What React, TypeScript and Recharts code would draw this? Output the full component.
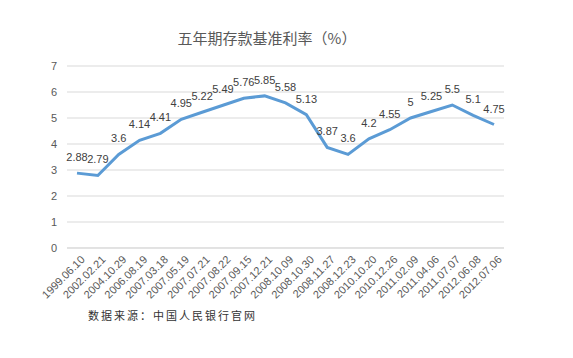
import React from 'react';
import { LineChart, Line, XAxis, YAxis, CartesianGrid, LabelList } from 'recharts';

const dates = [
  '1999.06.10', '2002.02.21', '2004.10.29', '2006.08.19', '2007.03.18', '2007.05.19',
  '2007.07.21', '2007.08.22', '2007.09.15', '2007.12.21', '2008.10.09', '2008.10.30',
  '2008.11.27', '2008.12.23', '2010.10.20', '2010.12.26', '2011.02.09', '2011.04.06',
  '2011.07.07', '2012.06.08', '2012.07.06',
];
const rates = [
  2.88, 2.79, 3.6, 4.14, 4.41, 4.95, 5.22, 5.49, 5.76, 5.85, 5.58, 5.13,
  3.87, 3.6, 4.2, 4.55, 5, 5.25, 5.5, 5.1, 4.75,
];
const yTicks = [0, 1, 2, 3, 4, 5, 6, 7];
const title = '五年期存款基准利率（%）';
const source = '数据来源：中国人民银行官网';

const data = dates.map((d, i) => ({ date: d, rate: rates[i] }));

const XTick = (props: any) => {
  const { x, y, payload } = props;
  return (
    <text
      x={x}
      y={y}
      transform={`rotate(-45, ${x}, ${y})`}
      textAnchor="end"
      dy={9}
      dx={3}
      fontSize={11}
      fill="#595959"
      fontFamily="'Liberation Sans', Arial, sans-serif"
    >
      {payload.value}
    </text>
  );
};

export default function App() {
  return (
    <div style={{ position: 'absolute', left: 0, top: 0, width: 573, height: 358, background: '#fff' }}>
      <div
        style={{
          position: 'absolute',
          left: 0,
          width: 534,
          top: 28,
          textAlign: 'center',
          fontSize: 15,
          color: '#595959',
          fontFamily: "'Noto Sans CJK SC', sans-serif",
          lineHeight: '20px',
        }}
      >
        {title}
      </div>
      <LineChart
        width={573}
        height={358}
        data={data}
        margin={{ top: 66, right: 69, bottom: 0, left: 0 }}
      >
        <CartesianGrid vertical={false} stroke="#d9d9d9" />
        <XAxis
          dataKey="date"
          interval={0}
          tickLine={false}
          axisLine={{ stroke: '#d9d9d9' }}
          tick={<XTick />}
          height={110}
          padding={{ left: 10, right: 10 }}
        />
        <YAxis
          width={67}
          domain={[0, 7]}
          ticks={yTicks}
          interval={0}
          tickLine={false}
          axisLine={false}
          tickMargin={4}
          tick={{ fontSize: 11, fill: '#595959', fontFamily: "'Liberation Sans', Arial, sans-serif" }}
        />
        <Line
          type="linear"
          dataKey="rate"
          stroke="#5B9BD5"
          strokeWidth={3}
          dot={false}
          isAnimationActive={false}
        >
          <LabelList
            dataKey="rate"
            position="top"
            offset={12}
            fontSize={11}
            fill="#404040"
            fontFamily="'Liberation Sans', Arial, sans-serif"
          />
        </Line>
      </LineChart>
      <div
        style={{
          position: 'absolute',
          left: 88,
          top: 308,
          fontSize: 11,
          letterSpacing: 2,
          color: '#333',
          fontFamily: "'Noto Sans CJK SC', sans-serif",
          lineHeight: '14px',
        }}
      >
        {source}
      </div>
    </div>
  );
}
